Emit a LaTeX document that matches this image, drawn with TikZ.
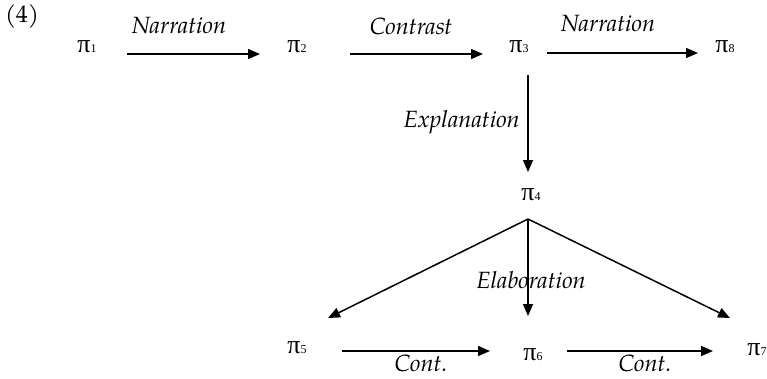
\documentclass[tikz,border=0pt]{standalone}
\usepackage{fontspec}
\setmainfont{TeX Gyre Pagella}
\newfontfamily\grk{Liberation Serif}
\usetikzlibrary{arrows.meta}
\newcommand{\pisym}[1]{{\grk\fontsize{26}{26}\selectfont π\fontsize{12}{12}\selectfont #1}}
\begin{document}
\begin{tikzpicture}[x=1pt,y=-1pt,
  pinode/.style={inner sep=0pt},
  rel/.style={font=\itshape\fontsize{23.5}{26}\selectfont, inner sep=0pt},
  arr/.style={line width=1.5pt, -{Triangle[length=12pt,width=10pt]}}]
\useasboundingbox (0,0) rectangle (767,378);
\node[inner sep=0pt, font=\fontsize{24}{26}\selectfont] (num) at (22,16) {(4)};
\node[pinode] (p1) at (87,47) {\pisym{1}};
\node[pinode] (p2) at (297,47) {\pisym{2}};
\node[pinode] (p3) at (519,47) {\pisym{3}};
\node[pinode] (p8) at (725,47) {\pisym{8}};
\node[pinode] (p4) at (531,195) {\pisym{4}};
\node[pinode] (p5) at (297,348) {\pisym{5}};
\node[pinode] (p6) at (533,355) {\pisym{6}};
\node[pinode] (p7) at (757,350) {\pisym{7}};
\coordinate (top) at ([shift={(-3,24)}]p4.center);
\draw[arr] ([shift={(40,7)}]p1.center) -- ([shift={(-37,7)}]p2.center);
\draw[arr] ([shift={(53,7)}]p2.center) -- ([shift={(-36,7)}]p3.center);
\draw[arr] ([shift={(28,6)}]p3.center) -- ([shift={(-27,6)}]p8.center);
\draw[arr] ([shift={(9,28)}]p3.center) -- ([shift={(-3,-23)}]p4.center);
\draw[arr] (top) -- ([shift={(31,-30)}]p5.center);
\draw[arr] (top) -- ([shift={(-5,-39)}]p6.center);
\draw[arr] (top) -- ([shift={(-27,-32)}]p7.center);
\draw[arr] ([shift={(45,3)}]p5.center) -- ([shift={(-43,-4)}]p6.center);
\draw[arr] ([shift={(34,-4)}]p6.center) -- ([shift={(-44,1)}]p7.center);
\node[rel] (l1) at (179,25) {Narration};
\node[rel] (l2) at (411,26) {Contrast};
\node[rel] (l3) at (608,23) {Narration};
\node[rel, anchor=east] (l4) at (520,122) {Explanation};
\node[rel] (l5) at (531,280) {Elaboration};
\node[rel, anchor=base, text depth=0pt] (l6) at (421,371) {Cont.};
\node[rel, anchor=base, text depth=0pt] (l7) at (645,371) {Cont.};
\end{tikzpicture}
\end{document}
